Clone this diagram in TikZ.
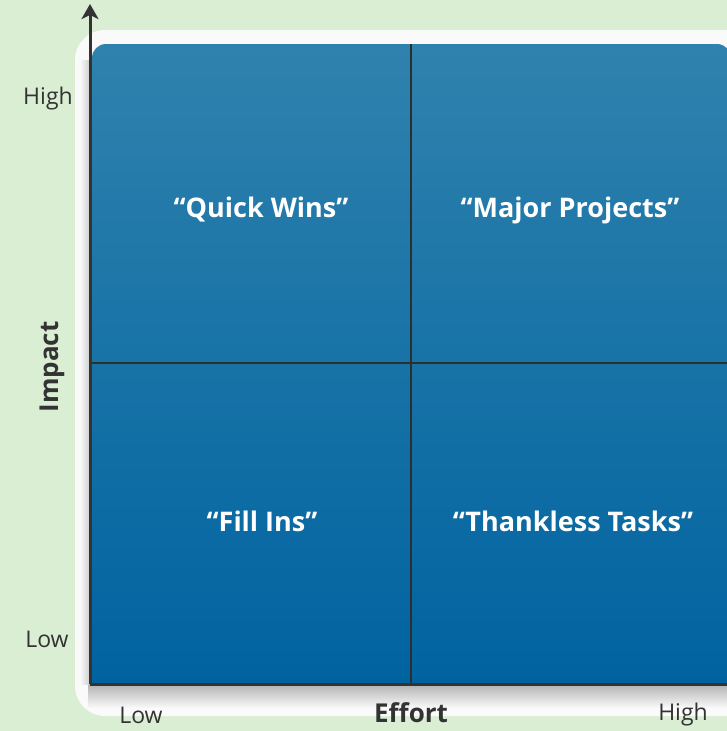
\documentclass[tikz,border=0pt]{standalone}
\usepackage{fontspec}
\setmainfont{Open Sans}
\usetikzlibrary{arrows.meta}
\definecolor{bggreen}{HTML}{D9EED3}
\definecolor{panelwhite}{HTML}{FAFAFA}
\definecolor{bluetop}{HTML}{2F82AD}
\definecolor{bluebot}{HTML}{0063A0}
\definecolor{ink}{HTML}{333333}
\tikzset{
  axisline/.style={draw=ink, line width=3pt},
  divider/.style={draw=ink!90!black, line width=2.6pt},
  quadlabel/.style={text=white, font=\fontsize{27}{30}\selectfont\bfseries, anchor=center},
  ticklabel/.style={text=ink, font=\fontsize{23}{26}\selectfont, anchor=center},
  axistitle/.style={text=ink, font=\fontsize{26}{29}\selectfont\bfseries, anchor=center},
}
\begin{document}
\begin{tikzpicture}[x=1pt, y=-1pt]
\useasboundingbox (0,0) rectangle (727,731);
% page background
\fill[bggreen] (0,0) rectangle (727,731);
% white panel behind the matrix
\fill[panelwhite, rounded corners=30pt] (75,30) rectangle (765,716);
% soft shadow below and left of the matrix
\shade[top color=black!30, bottom color=panelwhite] (88,684) rectangle (740,708);
\shade[left color=panelwhite, right color=black!18] (80,60) rectangle (89,684);
% blue matrix body
\shade[top color=bluetop, bottom color=bluebot]
  (92,683) {[rounded corners=14pt] -- (92,44) -- (731,44)} -- (731,683) -- cycle;
% quadrant dividers
\coordinate (vtop) at (411,44);
\coordinate (vbot) at (411,683);
\coordinate (hleft) at (90,363);
\coordinate (hright) at (727,363);
\draw[divider] (vtop) -- (vbot);
\draw[divider] (hleft) -- (hright);
% axes
\coordinate (origin) at (90,684);
\coordinate (ytip) at (90,4);
\coordinate (xend) at (727,684);
\draw[axisline] (origin) -- (xend);
\draw[axisline, -{Stealth[length=15pt, width=17pt, inset=4pt]}] (origin) -- (ytip);
% quadrant labels
\node[quadlabel] (quick) at (261,210) {“Quick Wins”};
\node[quadlabel] (major) at (570,210) {“Major Projects”};
\node[quadlabel] (fill) at (262,521) {“Fill Ins”};
\node[quadlabel] (thankless) at (573,521) {“Thankless Tasks”};
% axis labels
\node[ticklabel] (yhigh) at (48,99) {High};
\node[ticklabel] (ylow) at (47,639) {Low};
\node[axistitle, rotate=90] (impact) at (52,367) {Impact};
\node[ticklabel] (xlow) at (141,715) {Low};
\node[axistitle] (effort) at (411,713) {Effort};
\node[ticklabel] (xhigh) at (683,715) {High};
\end{tikzpicture}
\end{document}
